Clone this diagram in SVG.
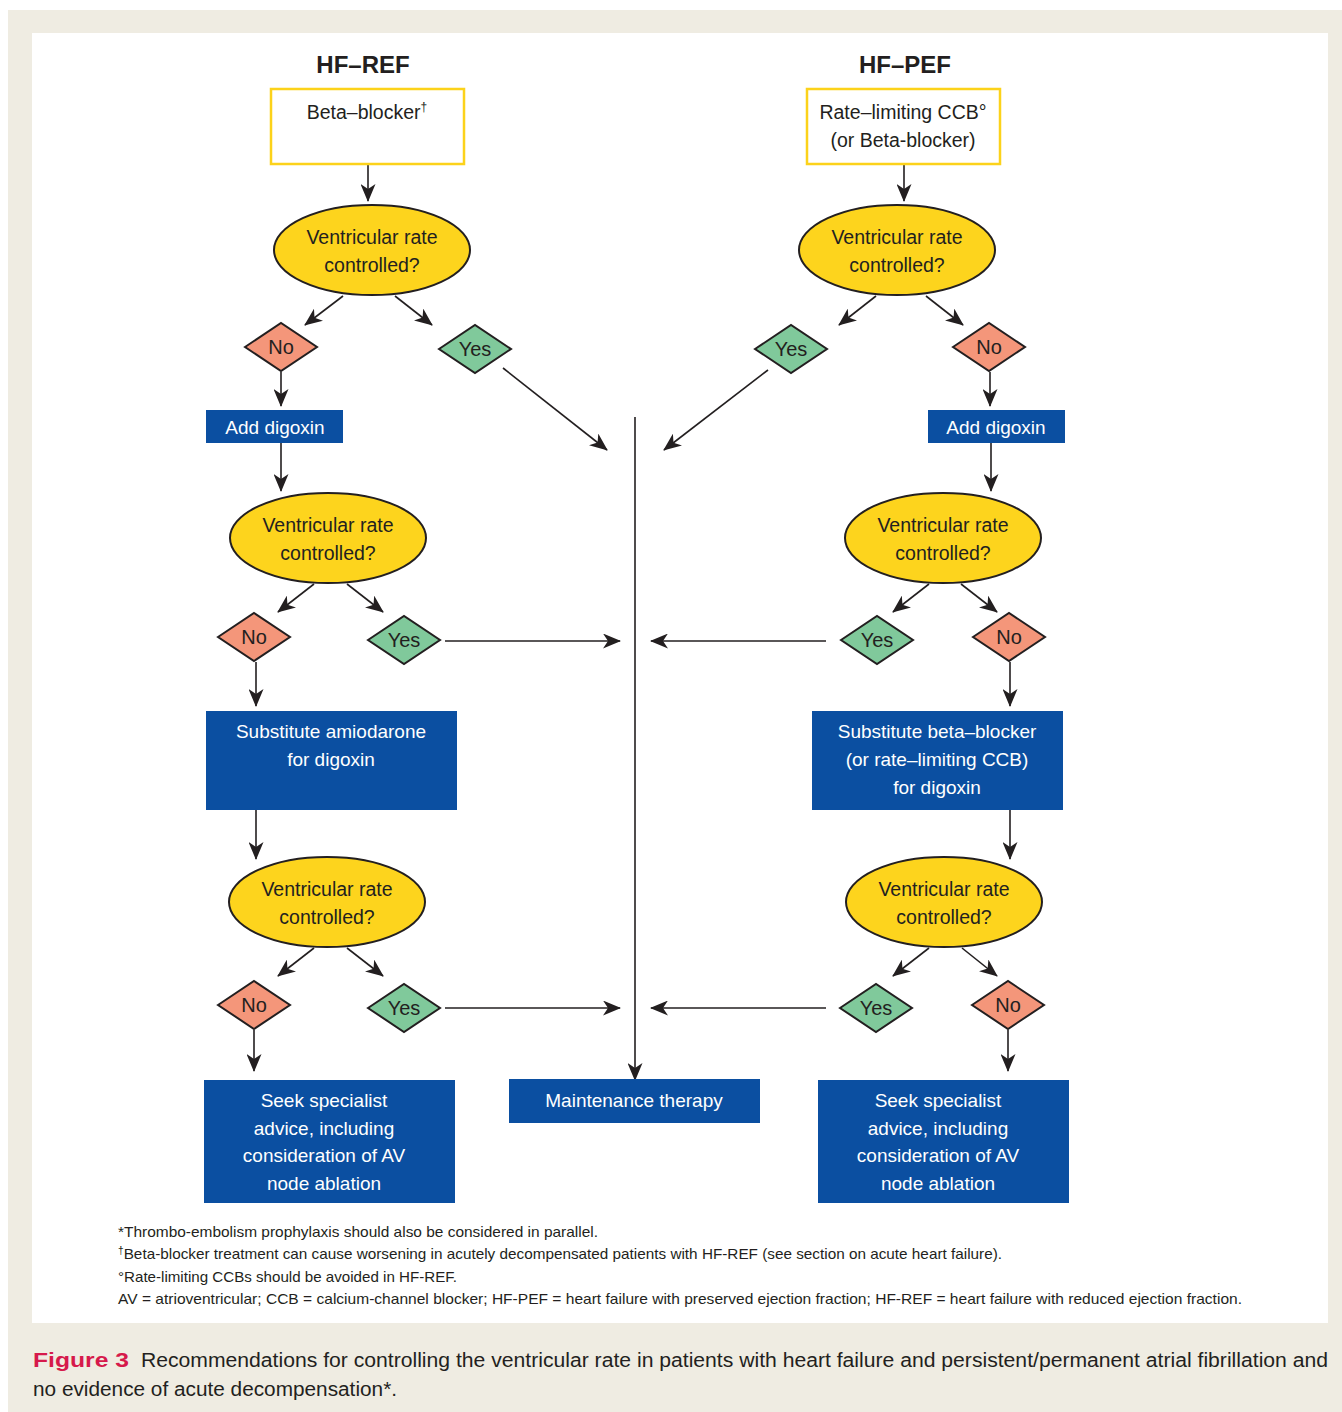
<svg xmlns="http://www.w3.org/2000/svg" width="1342" height="1412" viewBox="0 0 1342 1412">
<style>
.t{font-family:"Liberation Sans",Arial,sans-serif;fill:#231f20}
.w{font-family:"Liberation Sans",Arial,sans-serif;fill:#ffffff;font-size:19px;text-anchor:middle}
.c{text-anchor:middle;font-size:20px}
.e{text-anchor:middle;font-size:19.5px}
.h{font-weight:bold;font-size:24px;text-anchor:middle}
.fn{font-size:15px}
.ybox{fill:#ffffff;stroke:#fcd21a;stroke-width:2.5}
.bbox{fill:#0b4fa1}
.ell{fill:#fdd41d;stroke:#231f20;stroke-width:2}
.no{fill:#f4967a;stroke:#231f20;stroke-width:2}
.yes{fill:#80c99b;stroke:#231f20;stroke-width:2}
.ln{stroke:#231f20;stroke-width:1.6;fill:none;marker-end:url(#ah)}
</style>
<defs>
<marker id="ah" viewBox="0 0 18 15" refX="17" refY="7.5" markerWidth="18" markerHeight="15" markerUnits="userSpaceOnUse" orient="auto">
<path d="M0,0 L18,7.5 L0,15 L5,7.5 z" fill="#231f20"/>
</marker>
<polygon id="dia" points="-36,0 0,-24 36,0 0,24"/>
</defs>
<rect x="0" y="0" width="1342" height="1412" fill="#ffffff"/>
<rect x="8" y="10" width="1334" height="1402" fill="#efece2"/>
<rect x="32" y="33" width="1296" height="1290" fill="#ffffff"/>

<text class="t h" x="363" y="73">HF–REF</text>
<text class="t h" x="905" y="73">HF–PEF</text>

<g id="connectors">
<line class="ln" x1="368" y1="165" x2="368" y2="201"/>
<line class="ln" x1="343" y1="296" x2="305" y2="325"/>
<line class="ln" x1="395" y1="296" x2="432" y2="325"/>
<line class="ln" x1="281" y1="372" x2="281" y2="406"/>
<line class="ln" x1="281" y1="443" x2="281" y2="491"/>
<line class="ln" x1="314" y1="584" x2="278" y2="612"/>
<line class="ln" x1="347" y1="584" x2="383" y2="612"/>
<line class="ln" x1="256" y1="662" x2="256" y2="706"/>
<line class="ln" x1="256" y1="810" x2="256" y2="859"/>
<line class="ln" x1="314" y1="948" x2="278" y2="976"/>
<line class="ln" x1="347" y1="948" x2="383" y2="976"/>
<line class="ln" x1="254" y1="1030" x2="254" y2="1071"/>

<line class="ln" x1="904" y1="165" x2="904" y2="201"/>
<line class="ln" x1="876" y1="296" x2="839" y2="325"/>
<line class="ln" x1="926" y1="296" x2="963" y2="325"/>
<line class="ln" x1="990" y1="372" x2="990" y2="406"/>
<line class="ln" x1="991" y1="443" x2="991" y2="491"/>
<line class="ln" x1="929" y1="584" x2="893" y2="612"/>
<line class="ln" x1="961" y1="584" x2="997" y2="612"/>
<line class="ln" x1="1010" y1="662" x2="1010" y2="706"/>
<line class="ln" x1="1010" y1="810" x2="1010" y2="859"/>
<line class="ln" x1="929" y1="948" x2="893" y2="976"/>
<line class="ln" x1="962" y1="948" x2="997" y2="976"/>
<line class="ln" x1="1008" y1="1030" x2="1008" y2="1071"/>

<line class="ln" x1="503" y1="368" x2="607" y2="450"/>
<line class="ln" x1="768" y1="370" x2="664" y2="450"/>
<line class="ln" x1="445" y1="641" x2="620" y2="641"/>
<line class="ln" x1="826" y1="641" x2="651" y2="641"/>
<line class="ln" x1="445" y1="1008" x2="620" y2="1008"/>
<line class="ln" x1="826" y1="1008" x2="651" y2="1008"/>
<line class="ln" x1="635" y1="417" x2="635" y2="1080"/>
</g>

<g id="n-betablocker">
<rect class="ybox" x="271" y="89" width="193" height="75"/>
<text class="t e" x="367" y="119">Beta–blocker<tspan font-size="12" dy="-8">†</tspan></text>
</g>
<g id="n-ccb">
<rect class="ybox" x="807" y="89" width="193" height="75"/>
<text class="t e" x="903" y="119">Rate–limiting CCB°</text>
<text class="t e" x="903" y="147">(or Beta-blocker)</text>
</g>

<g id="n-q1l"><ellipse class="ell" cx="372" cy="250" rx="98" ry="45"/>
<text class="t e" x="372" y="244">Ventricular rate</text><text class="t e" x="372" y="272">controlled?</text></g>
<g id="n-q1r"><ellipse class="ell" cx="897" cy="250" rx="98" ry="45"/>
<text class="t e" x="897" y="244">Ventricular rate</text><text class="t e" x="897" y="272">controlled?</text></g>
<g id="n-q2l"><ellipse class="ell" cx="328" cy="538" rx="98" ry="45"/>
<text class="t e" x="328" y="532">Ventricular rate</text><text class="t e" x="328" y="560">controlled?</text></g>
<g id="n-q2r"><ellipse class="ell" cx="943" cy="538" rx="98" ry="45"/>
<text class="t e" x="943" y="532">Ventricular rate</text><text class="t e" x="943" y="560">controlled?</text></g>
<g id="n-q3l"><ellipse class="ell" cx="327" cy="902" rx="98" ry="45"/>
<text class="t e" x="327" y="896">Ventricular rate</text><text class="t e" x="327" y="924">controlled?</text></g>
<g id="n-q3r"><ellipse class="ell" cx="944" cy="902" rx="98" ry="45"/>
<text class="t e" x="944" y="896">Ventricular rate</text><text class="t e" x="944" y="924">controlled?</text></g>

<g id="n-no1l"><use href="#dia" class="no" transform="translate(281,347)"/><text class="t c" x="281" y="354">No</text></g>
<g id="n-yes1l"><use href="#dia" class="yes" transform="translate(475,349)"/><text class="t c" x="475" y="356">Yes</text></g>
<g id="n-no2l"><use href="#dia" class="no" transform="translate(254,637)"/><text class="t c" x="254" y="644">No</text></g>
<g id="n-yes2l"><use href="#dia" class="yes" transform="translate(404,640)"/><text class="t c" x="404" y="647">Yes</text></g>
<g id="n-no3l"><use href="#dia" class="no" transform="translate(254,1005)"/><text class="t c" x="254" y="1012">No</text></g>
<g id="n-yes3l"><use href="#dia" class="yes" transform="translate(404,1008)"/><text class="t c" x="404" y="1015">Yes</text></g>

<g id="n-yes1r"><use href="#dia" class="yes" transform="translate(791,349)"/><text class="t c" x="791" y="356">Yes</text></g>
<g id="n-no1r"><use href="#dia" class="no" transform="translate(989,347)"/><text class="t c" x="989" y="354">No</text></g>
<g id="n-yes2r"><use href="#dia" class="yes" transform="translate(877,640)"/><text class="t c" x="877" y="647">Yes</text></g>
<g id="n-no2r"><use href="#dia" class="no" transform="translate(1009,637)"/><text class="t c" x="1009" y="644">No</text></g>
<g id="n-yes3r"><use href="#dia" class="yes" transform="translate(876,1008)"/><text class="t c" x="876" y="1015">Yes</text></g>
<g id="n-no3r"><use href="#dia" class="no" transform="translate(1008,1005)"/><text class="t c" x="1008" y="1012">No</text></g>

<g id="n-digl"><rect class="bbox" x="206" y="410" width="137" height="33"/><text class="w" x="275" y="434">Add digoxin</text></g>
<g id="n-digr"><rect class="bbox" x="928" y="410" width="137" height="33"/><text class="w" x="996" y="434">Add digoxin</text></g>

<g id="n-subl"><rect class="bbox" x="206" y="711" width="251" height="99"/>
<text class="w" x="331" y="738">Substitute amiodarone</text><text class="w" x="331" y="766">for digoxin</text></g>
<g id="n-subr"><rect class="bbox" x="812" y="711" width="251" height="99"/>
<text class="w" x="937" y="738">Substitute beta–blocker</text><text class="w" x="937" y="766">(or rate–limiting CCB)</text><text class="w" x="937" y="794">for digoxin</text></g>

<g id="n-seekl"><rect class="bbox" x="204" y="1080" width="251" height="123"/>
<text class="w" x="324" y="1107">Seek specialist</text><text class="w" x="324" y="1135">advice, including</text><text class="w" x="324" y="1162">consideration of AV</text><text class="w" x="324" y="1190">node ablation</text></g>
<g id="n-maint"><rect class="bbox" x="509" y="1079" width="251" height="44"/>
<text class="w" x="634" y="1107">Maintenance therapy</text></g>
<g id="n-seekr"><rect class="bbox" x="818" y="1080" width="251" height="123"/>
<text class="w" x="938" y="1107">Seek specialist</text><text class="w" x="938" y="1135">advice, including</text><text class="w" x="938" y="1162">consideration of AV</text><text class="w" x="938" y="1190">node ablation</text></g>

<g id="footnotes">
<text class="t fn" x="118" y="1237" textLength="480" lengthAdjust="spacingAndGlyphs">*Thrombo-embolism prophylaxis should also be considered in parallel.</text>
<text class="t fn" x="118" y="1259" textLength="884" lengthAdjust="spacingAndGlyphs"><tspan font-size="10" dy="-5">†</tspan><tspan dy="5">Beta-blocker treatment can cause worsening in acutely decompensated patients with HF-REF (see section on acute heart failure).</tspan></text>
<text class="t fn" x="118" y="1282" textLength="339" lengthAdjust="spacingAndGlyphs">°Rate-limiting CCBs should be avoided in HF-REF.</text>
<text class="t fn" x="118" y="1304" textLength="1124" lengthAdjust="spacingAndGlyphs">AV = atrioventricular; CCB = calcium-channel blocker; HF-PEF = heart failure with preserved ejection fraction; HF-REF = heart failure with reduced ejection fraction.</text>
</g>

<g id="caption">
<text class="t" x="33" y="1367" font-size="21" font-weight="bold" style="fill:#d6194b" textLength="96" lengthAdjust="spacingAndGlyphs">Figure 3</text>
<text class="t" x="141" y="1367" font-size="20" textLength="1187" lengthAdjust="spacingAndGlyphs">Recommendations for controlling the ventricular rate in patients with heart failure and persistent/permanent atrial fibrillation and</text>
<text class="t" x="33" y="1396" font-size="20" textLength="364" lengthAdjust="spacingAndGlyphs">no evidence of acute decompensation*.</text>
</g>
</svg>
